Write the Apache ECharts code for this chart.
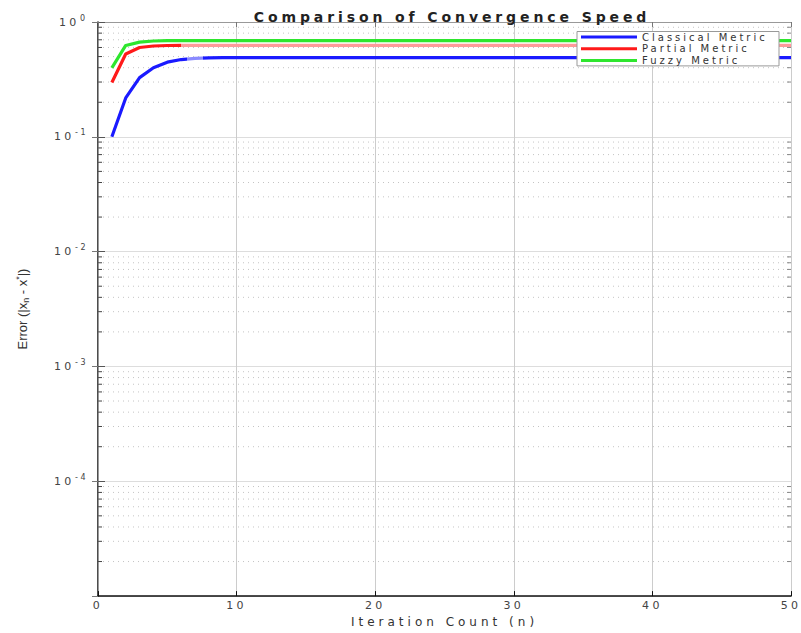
<!DOCTYPE html>
<html><head><meta charset="utf-8">
<script src="https://cdn.jsdelivr.net/npm/echarts@6/dist/echarts.min.js"></script>
<style>
html,body{margin:0;padding:0;background:#fff;}
#chart{width:801px;height:633px;}
#chart text[style*="14px"]{letter-spacing:3.9px;}
#chart text[style*="12px"]{letter-spacing:4px;}
#chart text[style*="11px"]{letter-spacing:3.3px;}
#chart text[style*="10px"]{letter-spacing:3px;}
#chart text[style*="8px"]{letter-spacing:2.5px;}
</style></head><body><div id="chart"></div>
<script>
const iterations = [1,2,3,4,5,6,7,8,9,10,11,12,13,14,15,16,17,18,19,20,21,22,23,24,25,26,27,28,29,30,31,32,33,34,35,36,37,38,39,40,41,42,43,44,45,46,47,48,49,50];
const classical = [0.100,0.218,0.328,0.400,0.447,0.471,0.482,0.487,0.489,0.490,0.490,0.490,0.490,0.490,0.490,0.490,0.490,0.490,0.490,0.490,0.490,0.490,0.490,0.490,0.490,0.490,0.490,0.490,0.490,0.490,0.490,0.490,0.490,0.490,0.490,0.490,0.490,0.490,0.490,0.490,0.490,0.490,0.490,0.490,0.490,0.490,0.490,0.490,0.490,0.490];
const partial = [0.297,0.527,0.600,0.618,0.624,0.626,0.626,0.626,0.626,0.626,0.626,0.626,0.626,0.626,0.626,0.626,0.626,0.626,0.626,0.626,0.626,0.626,0.626,0.626,0.626,0.626,0.626,0.626,0.626,0.626,0.626,0.626,0.626,0.626,0.626,0.626,0.626,0.626,0.626,0.626,0.626,0.626,0.626,0.626,0.626,0.626,0.626,0.626,0.626,0.626];
const fuzzy = [0.398,0.625,0.668,0.683,0.687,0.688,0.688,0.688,0.688,0.688,0.688,0.688,0.688,0.688,0.688,0.688,0.688,0.688,0.688,0.688,0.688,0.688,0.688,0.688,0.688,0.688,0.688,0.688,0.688,0.688,0.688,0.688,0.688,0.688,0.688,0.688,0.688,0.688,0.688,0.688,0.688,0.688,0.688,0.688,0.688,0.688,0.688,0.688,0.688,0.688];
const seriesNames = ['Classical Metric','Partial Metric','Fuzzy Metric'];
const minorTicks = [2e-5,3e-5,4e-5,5e-5,6e-5,7e-5,8e-5,9e-5,2e-4,3e-4,4e-4,5e-4,6e-4,7e-4,8e-4,9e-4,2e-3,3e-3,4e-3,5e-3,6e-3,7e-3,8e-3,9e-3,2e-2,3e-2,4e-2,5e-2,6e-2,7e-2,8e-2,9e-2,2e-1,3e-1,4e-1,5e-1,6e-1,7e-1,8e-1,9e-1];
const xMin = 0, xMax = 50, xInterval = 10;
const yMin = 1e-5, yMax = 1;

const FONT = '"DejaVu Sans", sans-serif';
function pairs(ys){ return iterations.map((x,i)=>[x, ys[i]]); }

const chart = echarts.init(document.getElementById('chart'), null, {renderer:'svg', width:801, height:633});
const option = {
  animation:false,
  backgroundColor:'#fff',
  title:{
    text:'Comparison of Convergence Speed',
    left:447, top:5, textAlign:'center',
    textStyle:{fontFamily:FONT, fontSize:14, fontWeight:'bold', color:'#222'}
  },
  grid:{left:98, right:5, top:22, bottom:31, containLabel:false},
  legend:{
    orient:'vertical', left:577, top:31.5,
    data:seriesNames,
    icon:'rect', itemWidth:56, itemHeight:3, itemGap:0.7,
    padding:[0,9,0,4],
    backgroundColor:'#fff', borderColor:'#999', borderWidth:1,
    textStyle:{fontFamily:FONT, fontSize:10, color:'#333', width:128, lineHeight:11}
  },
  xAxis:[{
    type:'value', min:xMin, max:xMax, interval:xInterval,
    name:'Iteration Count (n)', nameLocation:'middle', nameGap:17,
    nameTextStyle:{fontFamily:FONT, fontSize:12, color:'#333'},
    axisLine:{lineStyle:{color:'#111', width:1.5}},
    axisTick:{inside:true, length:5, lineStyle:{color:'#111'}},
    axisLabel:{fontFamily:FONT, fontSize:11, color:'#444', margin:4},
    splitLine:{show:true, lineStyle:{color:'#cccccc', width:1}}
  },{
    type:'value', position:'top', min:xMin, max:xMax, interval:xInterval,
    axisLine:{lineStyle:{color:'#999'}},
    axisTick:{inside:true, length:5, lineStyle:{color:'#777'}},
    axisLabel:{show:false}, splitLine:{show:false}
  }],
  yAxis:[{
    type:'log', logBase:10, min:yMin, max:yMax, splitNumber:5,
    name:'Error (|x{sub|n} - x{sup|*}|)', nameLocation:'middle', nameRotate:90, nameGap:68,
    nameTextStyle:{fontFamily:'"Liberation Sans", sans-serif', fontSize:13, color:'#333',
      rich:{sub:{fontFamily:'"Liberation Sans", sans-serif', fontSize:9, color:'#333', verticalAlign:'bottom', lineHeight:16},
            sup:{fontFamily:'"Liberation Sans", sans-serif', fontSize:9, color:'#333', verticalAlign:'top', lineHeight:9}}},
    axisLine:{lineStyle:{color:'#111', width:1.5}},
    axisTick:{inside:true, length:7, lineStyle:{color:'#555'}},
    axisLabel:{
      margin:10, showMinLabel:false,
      formatter:function(v){
        const e = String(Math.round(Math.log10(v)));
        return '{b|10}{' + (e.length > 1 ? 's2' : 's1') + '|' + e + '}';
      },
      rich:{
        b:{fontFamily:FONT, fontSize:11, color:'#444', width:21, align:'left', lineHeight:16, verticalAlign:'middle'},
        s1:{fontFamily:FONT, fontSize:8, color:'#444', width:8, align:'left', lineHeight:9, verticalAlign:'top'},
        s2:{fontFamily:FONT, fontSize:8, color:'#444', width:13, align:'left', lineHeight:9, verticalAlign:'top'}
      }
    },
    splitLine:{show:true, lineStyle:{color:'#dddddd', width:1}}
  },{
    type:'log', logBase:10, min:yMin, max:yMax, splitNumber:5, position:'right',
    axisLine:{lineStyle:{color:'#999'}},
    axisTick:{inside:true, length:6, lineStyle:{color:'#777'}},
    axisLabel:{show:false}, splitLine:{show:false}
  }],
  visualMap:[
    {type:'piecewise', show:false, seriesIndex:1, dimension:0, min:xMin, max:xMax,
     pieces:[{gte:xMin, lte:6.4, color:'#1a1aff'},{gt:6.4, lte:7.6, color:'#8a8aff'},{gt:7.6, lte:xMax, color:'#1a1aff'}]},
    {type:'piecewise', show:false, seriesIndex:2, dimension:0, min:xMin, max:xMax,
     pieces:[{gte:xMin, lte:6, color:'#ff1a1a'},{gt:6, lte:xMax, color:'#ff9a9a'}]}
  ],
  series:[
    {
      type:'custom', silent:true, z:1, clip:false,
      data:minorTicks.map(v=>[xMin, v]),
      encode:{x:0, y:1},
      renderItem:function(params, api){
        const v = api.value(1);
        const p0 = api.coord([xMin, v]);
        const p1 = api.coord([xMax, v]);
        return {type:'group', children:[
          {type:'line', shape:{x1:p0[0], y1:p0[1], x2:p1[0], y2:p1[1]}, style:{stroke:'#c4c4c4', lineWidth:1, lineDash:[1,4]}},
          {type:'line', shape:{x1:p0[0], y1:p0[1], x2:p0[0]+4, y2:p0[1]}, style:{stroke:'#444', lineWidth:1}},
          {type:'line', shape:{x1:p1[0]-4, y1:p1[1], x2:p1[0], y2:p1[1]}, style:{stroke:'#888', lineWidth:1}}
        ]};
      }
    },
    {name:seriesNames[0], type:'line', data:pairs(classical), showSymbol:false, z:3,
     color:'#1a1aff', itemStyle:{color:'#1a1aff'}, lineStyle:{width:3.2}},
    {name:seriesNames[1], type:'line', data:pairs(partial), showSymbol:false, z:3,
     color:'#ff1a1a', itemStyle:{color:'#ff1a1a'}, lineStyle:{width:3.2}},
    {name:seriesNames[2], type:'line', data:pairs(fuzzy), showSymbol:false, z:3,
     color:'#2ee62e', itemStyle:{color:'#2ee62e'}, lineStyle:{color:'#2ee62e', width:3.2}}
  ]
};
chart.setOption(option);
</script></body></html>
